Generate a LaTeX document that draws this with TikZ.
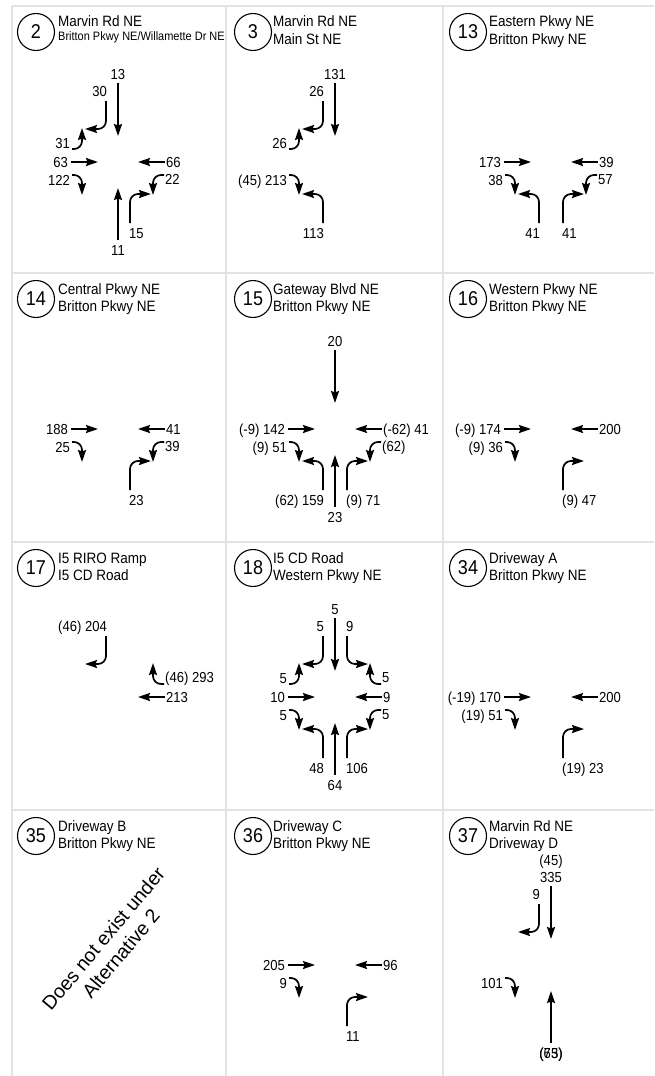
\documentclass[tikz,border=0pt]{standalone}
\usepackage{fontspec}
\setmainfont{Liberation Sans}[FakeStretch=0.9]
\newfontfamily\myplainfam{Liberation Sans}
\usetikzlibrary{arrows.meta}
\newcommand\myttlf{\fontsize{15}{17}\selectfont}
\newcommand\mysmlf{\fontsize{12.2}{14}\selectfont}
\newcommand\mylblf{\fontsize{14.5}{16}\selectfont}
\newcommand\mynumf{\fontsize{20}{22}\selectfont}
\newcommand\mydiagf{\myplainfam\fontsize{19.5}{23}\selectfont}
\tikzset{
  mv/.style={line width=1.7pt,-{Stealth[length=12pt,width=8pt,inset=1.5pt]},rounded corners=8pt},
  lbl/.style={font=\mylblf,inner sep=0pt},
  ttl/.style={font=\myttlf,inner sep=0pt,anchor=base west},
  numc/.style={circle,draw,line width=1.1pt,minimum size=37pt,inner sep=0pt,font=\mynumf},
  grid line/.style={draw=black!11,line width=2.6pt}
}
% movements (relative to intersection centre)
\newcommand\mvSBT[1]{\draw[mv] (0,-79) -- (0,-26); \node[lbl,anchor=base] at (0,-83) {#1};}
\newcommand\mvNBT[1]{\draw[mv] (0,78) -- (0,26); \node[lbl,anchor=base] at (0,93) {#1};}
\newcommand\mvEBT[1]{\draw[mv] (-47,0) -- (-20,0); \node[lbl,anchor=base east] at (-50,5) {#1};}
\newcommand\mvWBT[1]{\draw[mv] (47,0) -- (20,0); \node[lbl,anchor=base west] at (48,5) {#1};}
\newcommand\mvSBR[1]{\draw[mv] (-12,-61) |- (-33,-33); \node[lbl,anchor=base east] at (-11,-66) {#1};}
\newcommand\mvSBL[1]{\draw[mv] (12,-61) |- (33,-33); \node[lbl,anchor=base west] at (11,-66) {#1};}
\newcommand\mvNBL[1]{\draw[mv] (-12,61) |- (-33,32); \node[lbl,anchor=base east] at (-11,76) {#1};}
\newcommand\mvNBR[1]{\draw[mv] (12,61) |- (33,32); \node[lbl,anchor=base west] at (11,76) {#1};}
\newcommand\mvEBL[1]{\draw[mv] (-46,-13) -| (-36,-34); \node[lbl,anchor=base east] at (-48,-14) {#1};}
\newcommand\mvEBR[1]{\draw[mv] (-46,13) -| (-36,33); \node[lbl,anchor=base east] at (-48,23) {#1};}
\newcommand\mvWBR[1]{\draw[mv] (46,-13) -| (35,-34); \node[lbl,anchor=base west] at (47,-15) {#1};}
\newcommand\mvWBL[1]{\draw[mv] (46,13) -| (35,33); \node[lbl,anchor=base west] at (47,22) {#1};}
% cell header: #1 circle x, #2 row top, #3 number, #4 text x, #5 line 1, #6 line 2
\newcommand\mvhead[6]{%
  \node[numc] at (#1,#2+26) {#3};
  \node[ttl] at (#4,#2+21) {#5};
  \node[ttl] at (#4,#2+38) {#6};}
\begin{document}
\begin{tikzpicture}[x=1pt,y=-1pt]
\useasboundingbox (0,0) rectangle (654,1076);
\fill[white] (0,0) rectangle (654,1076);
% grid
\foreach \yy in {6,273,542,810} \draw[grid line] (12,\yy) -- (654,\yy);
\foreach \xx in {12,226,443} \draw[grid line] (\xx,6) -- (\xx,1076);
% ---------- row 1 ----------
\node[numc] at (36,32) {2};
\node[ttl] at (58,27) {Marvin Rd NE};
\node[ttl,font=\mysmlf] at (58,40) {Britton Pkwy NE/Willamette Dr NE};
\begin{scope}[shift={(118,162)}]
 \mvSBT{13}\mvSBR{30}\mvEBL{31}\mvEBT{63}\mvEBR{122}\mvWBT{66}\mvWBL{22}\mvNBT{11}\mvNBR{15}
\end{scope}
\mvhead{253}{6}{3}{273}{Marvin Rd NE}{Main St NE}
\begin{scope}[shift={(335,162)}]
 \mvSBT{131}\mvSBR{26}\mvEBL{26}\mvEBR{(45) 213}\mvNBL{113}
\end{scope}
\mvhead{468}{6}{13}{489}{Eastern Pkwy NE}{Britton Pkwy NE}
\begin{scope}[shift={(551,162)}]
 \mvEBT{173}\mvEBR{38}\mvWBT{39}\mvWBL{57}\mvNBL{41}\mvNBR{41}
\end{scope}
% ---------- row 2 ----------
\mvhead{36}{273}{14}{58}{Central Pkwy NE}{Britton Pkwy NE}
\begin{scope}[shift={(118,429)}]
 \mvEBT{188}\mvEBR{25}\mvWBT{41}\mvWBL{39}\mvNBR{23}
\end{scope}
\mvhead{253}{273}{15}{273}{Gateway Blvd NE}{Britton Pkwy NE}
\begin{scope}[shift={(335,429)}]
 \mvSBT{20}\mvEBT{(-9) 142}\mvEBR{(9) 51}\mvWBT{(-62) 41}\mvWBL{(62)}\mvNBL{(62) 159}\mvNBT{23}\mvNBR{(9) 71}
\end{scope}
\mvhead{468}{273}{16}{489}{Western Pkwy NE}{Britton Pkwy NE}
\begin{scope}[shift={(551,429)}]
 \mvEBT{(-9) 174}\mvEBR{(9) 36}\mvWBT{200}\mvNBR{(9) 47}
\end{scope}
% ---------- row 3 ----------
\mvhead{36}{542}{17}{58}{I5 RIRO Ramp}{I5 CD Road}
\begin{scope}[shift={(118,697)}]
 \mvSBR{(46) 204}\mvWBR{(46) 293}\mvWBT{213}
\end{scope}
\mvhead{253}{542}{18}{273}{I5 CD Road}{Western Pkwy NE}
\begin{scope}[shift={(335,697)}]
 \mvSBT{5}\mvSBR{5}\mvSBL{9}\mvEBL{5}\mvEBT{10}\mvEBR{5}\mvWBR{5}\mvWBT{9}\mvWBL{5}\mvNBL{48}\mvNBT{64}\mvNBR{106}
\end{scope}
\mvhead{468}{542}{34}{489}{Driveway A}{Britton Pkwy NE}
\begin{scope}[shift={(551,697)}]
 \mvEBT{(-19) 170}\mvEBR{(19) 51}\mvWBT{200}\mvNBR{(19) 23}
\end{scope}
% ---------- row 4 ----------
\mvhead{36}{810}{35}{58}{Driveway B}{Britton Pkwy NE}
\node[font=\mydiagf,rotate=50,align=center,inner sep=0pt] (dne) at (112,946) {Does not exist under\\Alternative 2};
\mvhead{253}{810}{36}{273}{Driveway C}{Britton Pkwy NE}
\begin{scope}[shift={(335,965)}]
 \mvEBT{205}\mvEBR{9}\mvWBT{96}\mvNBR{11}
\end{scope}
\mvhead{468}{810}{37}{489}{Marvin Rd NE}{Driveway D}
\begin{scope}[shift={(551,965)}]
 \mvSBT{335}\node[lbl,anchor=base] at (0,-100) {(45)};
 \mvSBR{9}\mvEBR{101}\mvNBT{(75)}\node[lbl,anchor=base] at (0,93) {(63)};
\end{scope}
\end{tikzpicture}
\end{document}
